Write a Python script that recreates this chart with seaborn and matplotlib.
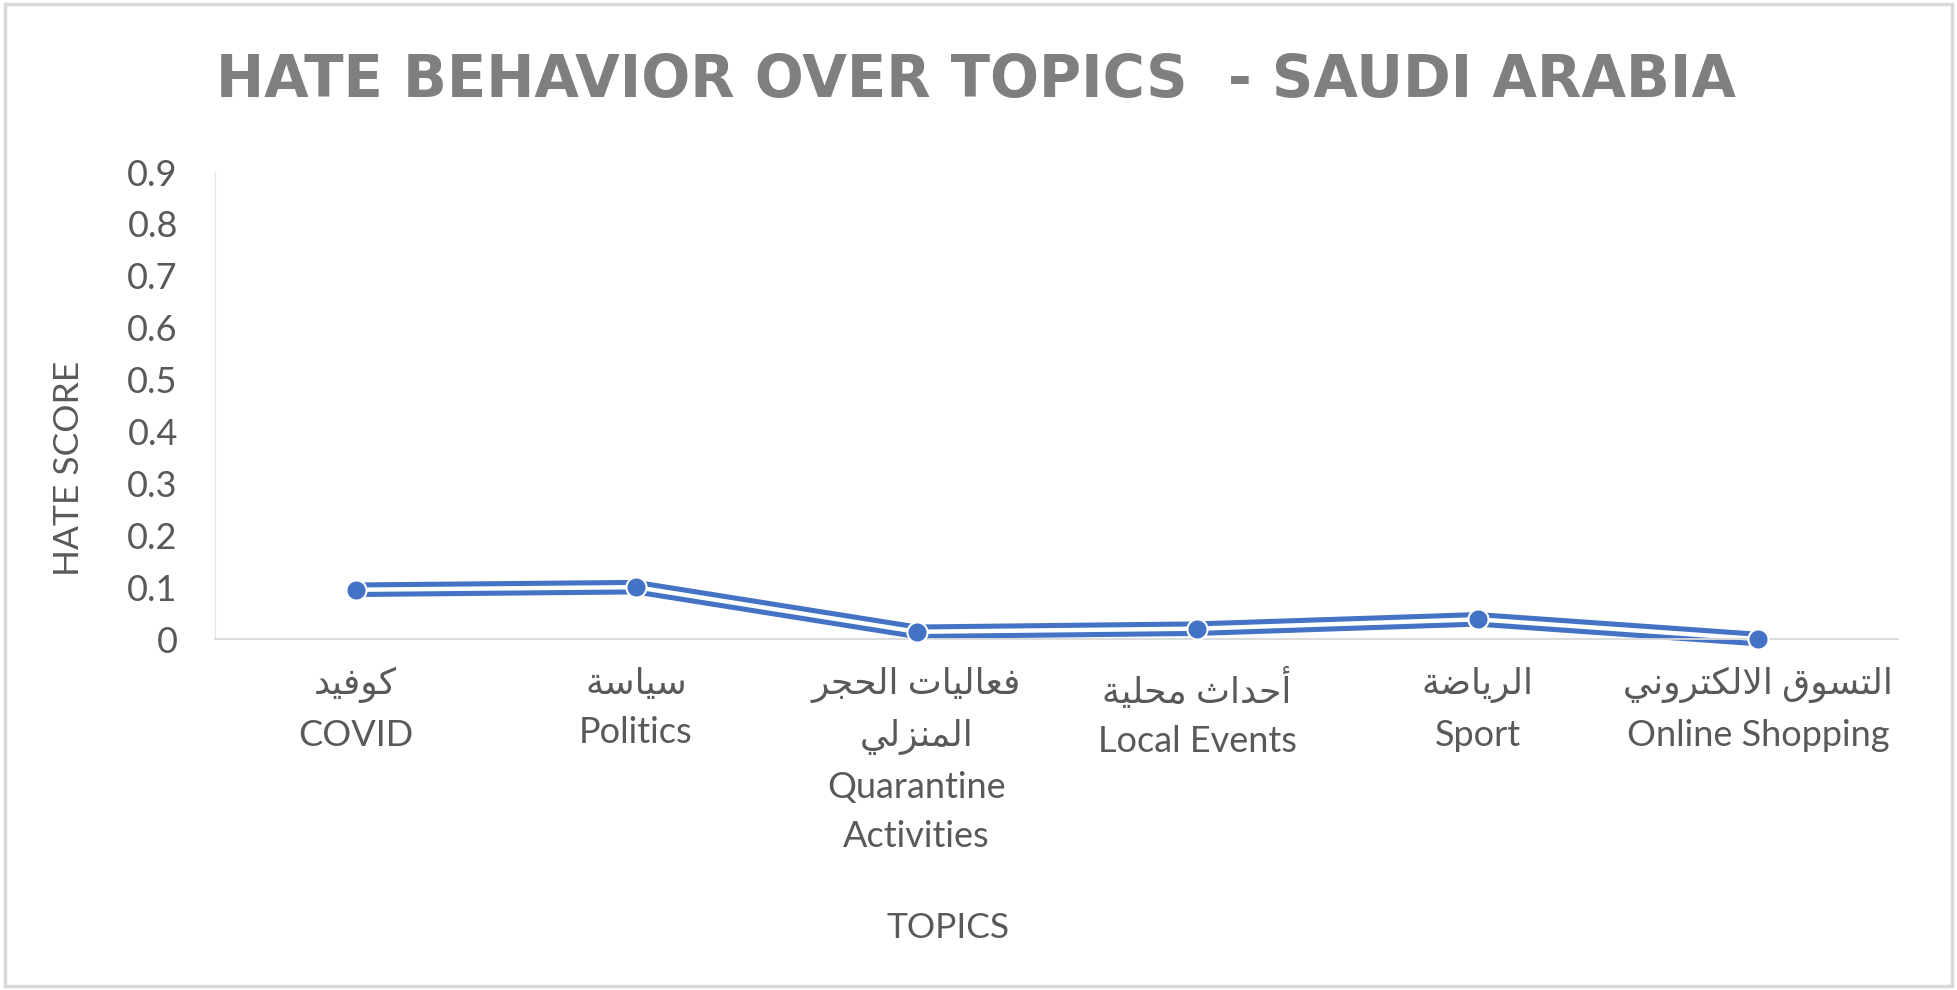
import numpy as np
import pandas as pd
import matplotlib
matplotlib.use('Agg')
import matplotlib.pyplot as plt
import seaborn as sns
from matplotlib.patches import Rectangle

# data
topics_ar = ['كوفيد', 'سياسة', 'فعاليات الحجر\nالمنزلي', 'أحداث محلية', 'الرياضة', 'التسوق الالكتروني']
topics_en = ['COVID', 'Politics', 'Quarantine\nActivities', 'Local Events', 'Sport', 'Online Shopping']
hate_score = [0.095, 0.100, 0.014, 0.020, 0.038, 0.0]
y_ticks = [0, 0.1, 0.2, 0.3, 0.4, 0.5, 0.6, 0.7, 0.8, 0.9]
y_tick_labels = ['0', '0.1', '0.2', '0.3', '0.4', '0.5', '0.6', '0.7', '0.8', '0.9']

# matplotlib does not shape arabic, so map letters to presentation forms by hand
# letter -> (isolated form in Presentation Forms-B, joins to the following letter)
AR_FORMS = {
    '\u0627': (0xFE8D, False), '\u0623': (0xFE83, False), '\u0629': (0xFE93, False),
    '\u062A': (0xFE95, True), '\u062B': (0xFE99, True), '\u062C': (0xFE9D, True),
    '\u062D': (0xFEA1, True), '\u062F': (0xFEA9, False), '\u0631': (0xFEAD, False),
    '\u0632': (0xFEAF, False), '\u0633': (0xFEB1, True), '\u0636': (0xFEBD, True),
    '\u0639': (0xFEC9, True), '\u0641': (0xFED1, True), '\u0642': (0xFED5, True),
    '\u0643': (0xFED9, True), '\u0644': (0xFEDD, True), '\u0645': (0xFEE1, True),
    '\u0646': (0xFEE5, True), '\u0648': (0xFEED, False), '\u064A': (0xFEF1, True),
}


def shape_ar(text):
    chars = []
    i = 0
    while i < len(text):
        if text[i] == '\u0644' and i + 1 < len(text) and text[i + 1] == '\u0627':
            chars.append('LA')
            i += 2
        else:
            chars.append(text[i])
            i += 1
    out = []
    for k, c in enumerate(chars):
        prev = chars[k - 1] if k > 0 else None
        nxt = chars[k + 1] if k + 1 < len(chars) else None
        joins_prev = prev in AR_FORMS and AR_FORMS[prev][1]
        if c == 'LA':
            out.append(chr(0xFEFC if joins_prev else 0xFEFB))
            continue
        if c not in AR_FORMS:
            out.append(c)
            continue
        base, dual = AR_FORMS[c]
        joins_next = dual and (nxt in AR_FORMS or nxt == 'LA')
        if joins_prev and joins_next:
            out.append(chr(base + 3))
        elif joins_prev:
            out.append(chr(base + 1))
        elif joins_next:
            out.append(chr(base + 2))
        else:
            out.append(chr(base))
    return ''.join(reversed(out))


labels = []
for ar, en in zip(topics_ar, topics_en):
    ar_lines = [shape_ar(line) for line in ar.split('\n')]
    labels.append('\n'.join(ar_lines) + '\n' + en)

sns.set_style('white')
plt.rcParams['font.family'] = ['Lato', 'DejaVu Sans']

df = pd.DataFrame({'pos': np.arange(len(hate_score)), 'score': hate_score})

fig = plt.figure(figsize=(19.57, 9.90), dpi=100)
ax = fig.add_axes([0.110, 0.3545, 0.860, 0.4717])

blue = '#4472C4'
sns.lineplot(data=df, x='pos', y='score', color=blue, lw=10.5, ax=ax, clip_on=False)
sns.lineplot(data=df, x='pos', y='score', color='white', lw=3.2, ax=ax, clip_on=False)
sns.scatterplot(data=df, x='pos', y='score', color=blue, s=210, edgecolor='white',
                linewidth=1.5, zorder=5, ax=ax, clip_on=False)

ax.set_xlim(-0.5, 5.5)
ax.set_ylim(0, 0.9)
ax.set_xticks(df['pos'])
ax.set_xticklabels(labels, linespacing=1.6)
ax.set_yticks(y_ticks)
ax.set_yticklabels(y_tick_labels)
ax.tick_params(axis='both', length=0, labelsize=26, labelcolor='#595959')
ax.tick_params(axis='y', pad=27)
ax.tick_params(axis='x', pad=20)
ax.set_xlabel('')
ax.set_ylabel('')
for s in ['top', 'right']:
    ax.spines[s].set_visible(False)
ax.spines['left'].set_color('#e3e3e3')
ax.spines['bottom'].set_color('#d9d9d9')
ax.spines['bottom'].set_linewidth(1.3)

fig.text(69 / 1957, 1 - 468 / 990, 'HATE SCORE', rotation=90, ha='center', va='center',
         fontsize=25.5, color='#595959')
fig.text(948 / 1957, 1 - 928 / 990, 'TOPICS', ha='center', va='center',
         fontsize=25.5, color='#595959')
fig.text(976 / 1957, 1 - 80 / 990, 'HATE BEHAVIOR OVER TOPICS  - SAUDI ARABIA',
         ha='center', va='center', fontsize=41.5, fontweight='bold', color='#7f7f7f',
         family='DejaVu Sans')

fig.add_artist(Rectangle((0.0025, 0.004), 0.995, 0.992, transform=fig.transFigure,
                         fill=False, edgecolor='#d9d9d9', lw=2.5))

fig.savefig('out.png', dpi=100, facecolor='white')
